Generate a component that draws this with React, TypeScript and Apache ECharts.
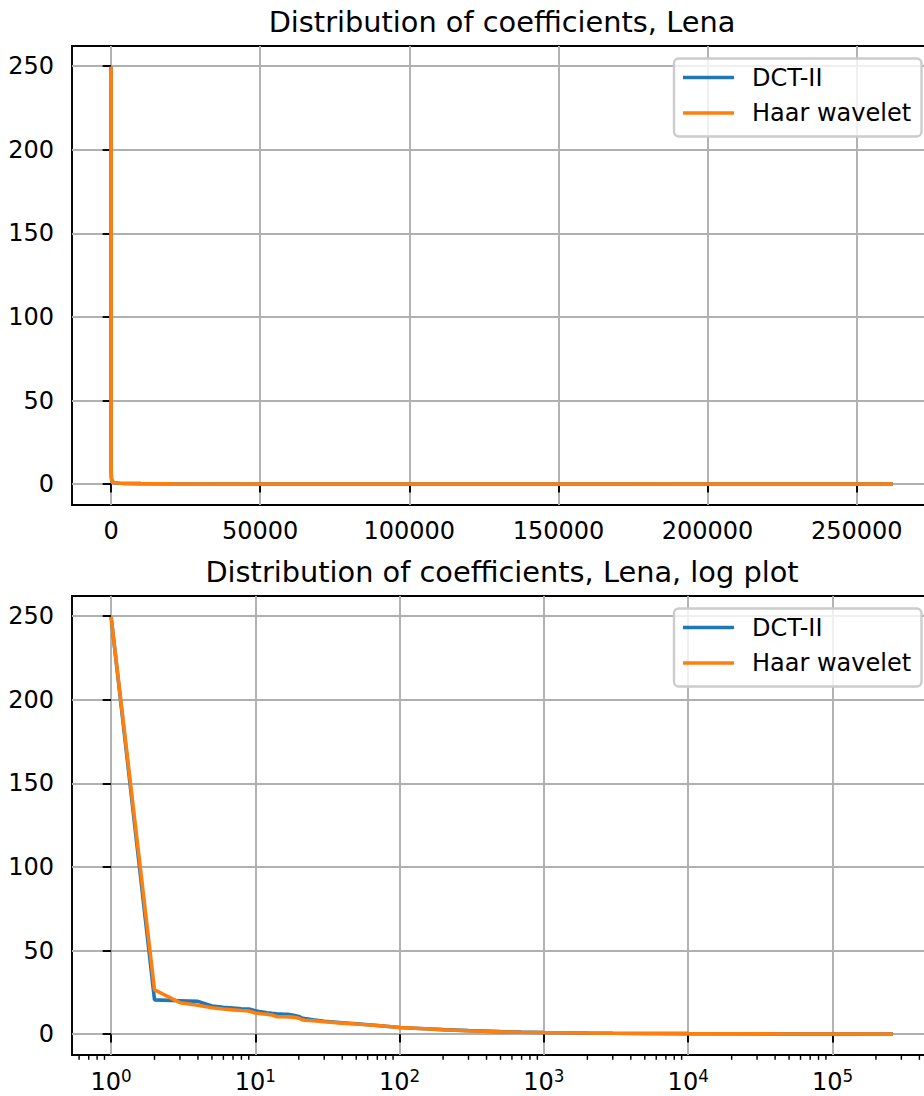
import React, { useEffect, useRef } from "react";
import * as echarts from "echarts";

const FONT = "DejaVu Sans";
const TITLE_TOP = "Distribution of coefficients, Lena";
const TITLE_BOTTOM = "Distribution of coefficients, Lena, log plot";
const SERIES_NAMES = ["DCT-II", "Haar wavelet"];
const COLORS = ["#1f77b4", "#ff7f0e"];

// coefficient rank (1-based) and sorted magnitudes
const coefIndex = [
  1, 2, 3, 4, 5, 6, 7, 8, 9, 10, 11, 12, 13, 14, 15, 16, 17, 18, 19, 20, 21, 22,
  25, 30, 40, 50, 70, 100, 150, 200, 300, 500, 700, 1000, 2000, 3000, 5000,
  10000, 20000, 50000, 100000, 200000, 262144,
];
const dctValues = [
  249.6, 20.5, 20.0, 19.6, 16.8, 16.0, 15.6, 15.2, 15.0, 14.0, 13.3, 12.8, 12.4,
  12.1, 12.0, 11.9, 11.8, 11.4, 11.0, 10.6, 9.6, 9.3, 8.6, 7.7, 6.8, 6.2, 5.2,
  4.0, 3.2, 2.7, 2.1, 1.5, 1.2, 1.0, 0.7, 0.55, 0.42, 0.3, 0.2, 0.12, 0.08,
  0.03, 0.0,
];
const haarValues = [
  249.6, 26.5, 18.8, 17.3, 15.8, 15.0, 14.5, 14.1, 13.8, 12.6, 12.2, 11.9, 11.4,
  10.5, 10.4, 10.4, 10.3, 10.2, 10.0, 9.5, 8.6, 8.3, 8.0, 7.4, 6.6, 6.1, 5.2,
  4.0, 3.2, 2.6, 2.0, 1.4, 1.15, 0.95, 0.65, 0.5, 0.4, 0.28, 0.18, 0.1, 0.06,
  0.02, 0.0,
];

const linearXTicks = [0, 50000, 100000, 150000, 200000, 250000];
const yTicks = [0, 50, 100, 150, 200, 250];
const logDecadeTicks = [0, 1, 2, 3, 4, 5];
const minorMultipliers = [2, 3, 4, 5, 6, 7, 8, 9];
const minorDecades = [-1, 0, 1, 2, 3, 4, 5];

// axis extents (matplotlib 5% margins)
const N_MAX = 262144;
const LIN_X_MIN = 1 - 0.05 * (N_MAX - 1);
const LIN_X_MAX = N_MAX + 0.05 * (N_MAX - 1);
const Y_MIN = -12.48;
const Y_MAX = 262.08;
const LOG_SPAN = Math.log10(N_MAX);
const LOG_X_MIN = -0.05 * LOG_SPAN;
const LOG_X_MAX = LOG_SPAN * 1.05;

const GRID_LEFT = 72;
const GRID_WIDTH = 860;
const GRID_HEIGHT = 459;
const GRID_TOPS = [46, 596];

const SC = 2.4; // px per pt

function App() {
  const ref = useRef<HTMLDivElement>(null);

  useEffect(() => {
    if (!ref.current) return;
    const chart = echarts.init(ref.current, undefined, { renderer: "svg" });

    const labelStyle = { color: "#000", fontFamily: FONT, fontSize: 24 };
    const tickStyle = {
      show: true,
      inside: false,
      length: 3.5 * SC,
      lineStyle: { color: "#000", width: 0.8 * SC },
    };
    const splitStyle = {
      show: true,
      lineStyle: { color: "#b0b0b0", width: 0.8 * SC },
    };

    const yAxisCommon = (gridIndex: number) => ({
      type: "value",
      gridIndex,
      min: Y_MIN,
      max: Y_MAX,
      axisLine: { show: false },
      axisTick: { ...tickStyle, customValues: yTicks },
      axisLabel: {
        ...labelStyle,
        margin: 18,
        customValues: yTicks,
        formatter: (v: number) => String(v),
      },
      splitLine: splitStyle,
    });

    const logData = (vals: number[]) =>
      coefIndex.map((n, i) => [Math.log10(n), vals[i]]);
    const linData = (vals: number[]) => coefIndex.map((n, i) => [n, vals[i]]);

    const minorTickData: number[][] = [];
    minorDecades.forEach((d) =>
      minorMultipliers.forEach((m) => {
        const lv = Math.log10(m) + d;
        if (lv > LOG_X_MIN && lv < LOG_X_MAX) minorTickData.push([lv]);
      })
    );

    const legendGraphics = (top: number) => {
      const els: any[] = [
        {
          type: "rect",
          z: 100,
          shape: { x: 674, y: top + 12.5, width: 247.5, height: 78, r: 4.8 },
          style: {
            fill: "rgba(255,255,255,0.8)",
            stroke: "#cccccc",
            lineWidth: 1.0 * SC,
          },
        },
      ];
      SERIES_NAMES.forEach((name, i) => {
        const y = top + 31.5 + i * 35.5;
        els.push({
          type: "line",
          z: 101,
          shape: { x1: 683, y1: y, x2: 734, y2: y },
          style: { stroke: COLORS[i], lineWidth: 1.5 * SC },
        });
        els.push({
          type: "text",
          z: 101,
          x: 752,
          y,
          style: {
            text: name,
            fontFamily: FONT,
            fontSize: 24,
            fill: "#000",
            align: "left",
            verticalAlign: "middle",
          },
        });
      });
      return els;
    };

    const option: any = {
      animation: false,
      backgroundColor: "#fff",
      grid: GRID_TOPS.map((top) => ({
        left: GRID_LEFT,
        top,
        width: GRID_WIDTH,
        height: GRID_HEIGHT,
        show: true,
        borderColor: "#000",
        borderWidth: 0.8 * SC,
        backgroundColor: "transparent",
        containLabel: false,
      })),
      xAxis: [
        {
          type: "value",
          gridIndex: 0,
          min: LIN_X_MIN,
          max: LIN_X_MAX,
          axisLine: { show: false },
          axisTick: { ...tickStyle, customValues: linearXTicks },
          axisLabel: {
            ...labelStyle,
            margin: 14,
            customValues: linearXTicks,
            formatter: (v: number) => String(v),
          },
          splitLine: splitStyle,
        },
        {
          type: "value",
          gridIndex: 1,
          min: LOG_X_MIN,
          max: LOG_X_MAX,
          axisLine: { show: false },
          axisTick: { ...tickStyle, customValues: logDecadeTicks },
          axisLabel: {
            ...labelStyle,
            margin: 12,
            customValues: logDecadeTicks,
            formatter: (v: number) => `{b|10}{s|${Math.round(v)}}`,
            rich: {
              b: {
                fontFamily: FONT,
                fontSize: 24,
                color: "#000",
                lineHeight: 30,
                verticalAlign: "middle",
              },
              s: {
                fontFamily: FONT,
                fontSize: 16.8,
                color: "#000",
                lineHeight: 18,
                verticalAlign: "top",
              },
            },
          },
          splitLine: splitStyle,
        },
      ],
      yAxis: [yAxisCommon(0), yAxisCommon(1)],
      series: [
        {
          name: SERIES_NAMES[0],
          type: "line",
          xAxisIndex: 0,
          yAxisIndex: 0,
          data: linData(dctValues),
          showSymbol: false,
          symbol: "none",
          lineStyle: { color: COLORS[0], width: 1.5 * SC },
          z: 3,
        },
        {
          name: SERIES_NAMES[1],
          type: "line",
          xAxisIndex: 0,
          yAxisIndex: 0,
          data: linData(haarValues),
          showSymbol: false,
          symbol: "none",
          lineStyle: { color: COLORS[1], width: 1.5 * SC },
          z: 4,
        },
        {
          name: SERIES_NAMES[0],
          type: "line",
          xAxisIndex: 1,
          yAxisIndex: 1,
          data: logData(dctValues),
          showSymbol: false,
          symbol: "none",
          lineStyle: { color: COLORS[0], width: 1.5 * SC },
          z: 3,
        },
        {
          name: SERIES_NAMES[1],
          type: "line",
          xAxisIndex: 1,
          yAxisIndex: 1,
          data: logData(haarValues),
          showSymbol: false,
          symbol: "none",
          lineStyle: { color: COLORS[1], width: 1.5 * SC },
          z: 4,
        },
        {
          type: "custom",
          xAxisIndex: 1,
          yAxisIndex: 1,
          silent: true,
          clip: false,
          encode: { x: 0 },
          data: minorTickData,
          renderItem: (_params: any, api: any) => {
            const p = api.coord([api.value(0), Y_MIN]);
            return {
              type: "line",
              shape: { x1: p[0], y1: p[1], x2: p[0], y2: p[1] + 2 * SC },
              style: { stroke: "#000", lineWidth: 0.6 * SC },
            };
          },
          z: 5,
        },
      ],
      graphic: [
        {
          type: "text",
          x: GRID_LEFT + GRID_WIDTH / 2,
          y: 22,
          style: {
            text: TITLE_TOP,
            fontFamily: FONT,
            fontSize: 28.8,
            fill: "#000",
            align: "center",
            verticalAlign: "middle",
          },
        },
        {
          type: "text",
          x: GRID_LEFT + GRID_WIDTH / 2,
          y: 572,
          style: {
            text: TITLE_BOTTOM,
            fontFamily: FONT,
            fontSize: 28.8,
            fill: "#000",
            align: "center",
            verticalAlign: "middle",
          },
        },
        ...legendGraphics(GRID_TOPS[0]),
        ...legendGraphics(GRID_TOPS[1]),
      ],
    };

    chart.setOption(option);
    return () => chart.dispose();
  }, []);

  return (
    <div
      style={{
        position: "absolute",
        left: 0,
        top: 0,
        width: 924,
        height: 1096,
        overflow: "hidden",
      }}
    >
      <div ref={ref} style={{ width: 960, height: 1096 }} />
    </div>
  );
}

export default App;
